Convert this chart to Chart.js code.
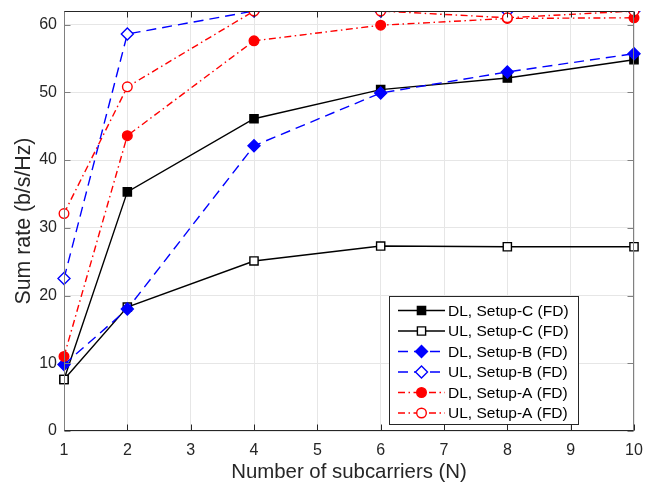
<!DOCTYPE html>
<html><head><meta charset="utf-8">
<script src="https://cdn.jsdelivr.net/npm/chart.js@4/dist/chart.umd.min.js"></script>
<style>html,body{margin:0;padding:0;background:#fff}#wrap{width:653px;height:489px}</style>
</head><body><div id="wrap"><canvas id="c" width="653" height="489"></canvas></div>
<script>
const subcarriers = [1, 2, 4, 6, 8, 10];
const dlSetupC = [7.6, 35.3, 46.1, 50.4, 52.1, 54.8];
const ulSetupC = [7.6, 18.3, 25.1, 27.3, 27.2, 27.2];
const dlSetupB = [9.8, 18.0, 42.1, 49.9, 53.0, 55.7];
const ulSetupB = [22.5, 58.6, 62, 62, 62, 62];
const dlSetupA = [11.0, 43.6, 57.6, 59.9, 60.9, 61.0];
const ulSetupA = [32.1, 50.8, 62, 62, 61.0, 62];
const seriesLabels = ['DL, Setup-C (FD)', 'UL, Setup-C (FD)', 'DL, Setup-B (FD)', 'UL, Setup-B (FD)', 'DL, Setup-A (FD)', 'UL, Setup-A (FD)'];
const xTickValues = [1, 2, 3, 4, 5, 6, 7, 8, 9, 10];
const yTickValues = [0, 10, 20, 30, 40, 50, 60];
const xTitle = 'Number of subcarriers (N)';
const yTitle = 'Sum rate (b/s/Hz)';

const FONT = "'Liberation Sans', Arial, Helvetica, sans-serif";
const seriesValues = [dlSetupC, ulSetupC, dlSetupB, ulSetupB, dlSetupA, ulSetupA];
const styles = [
  {color: '#000000', dash: [], point: 'rect', r: 5.8, filled: true},
  {color: '#000000', dash: [], point: 'rect', r: 5.8, filled: false},
  {color: '#0000ff', dash: [10, 6], point: 'rectRot', r: 6, filled: true},
  {color: '#0000ff', dash: [10, 6], point: 'rectRot', r: 6, filled: false},
  {color: '#ff0000', dash: [7, 3.5, 1.5, 3.5], point: 'circle', r: 4.8, filled: true},
  {color: '#ff0000', dash: [7, 3.5, 1.5, 3.5], point: 'circle', r: 4.8, filled: false}
];

const datasets = seriesValues.map((vals, i) => {
  const s = styles[i];
  return {
    label: seriesLabels[i],
    data: subcarriers.map((x, j) => ({x: x, y: vals[j]})),
    borderColor: s.color,
    borderWidth: 1.4,
    borderDash: s.dash,
    pointStyle: s.point,
    pointRadius: s.r,
    pointBorderWidth: 1.4,
    pointBorderColor: s.color,
    pointBackgroundColor: s.filled ? s.color : '#ffffff',
    fill: false,
    tension: 0,
    order: seriesValues.length - 1 - i,
    clip: {left: 12, right: 12, top: 0, bottom: 12}
  };
});

function drawMarker(ctx, style, x, y, r) {
  ctx.beginPath();
  if (style === 'rect') {
    const h = r * Math.SQRT1_2;
    ctx.rect(x - h, y - h, 2 * h, 2 * h);
  } else if (style === 'rectRot') {
    ctx.moveTo(x, y - r); ctx.lineTo(x + r, y); ctx.lineTo(x, y + r); ctx.lineTo(x - r, y); ctx.closePath();
  } else {
    ctx.arc(x, y, r, 0, Math.PI * 2);
  }
  ctx.fill();
  ctx.stroke();
}

const framePlugin = {
  id: 'frame',
  afterDatasetsDraw(chart) {
    const ctx = chart.ctx;
    const {left, right, top, bottom} = chart.chartArea;
    const xs = chart.scales.x, ys = chart.scales.y;
    const L = Math.round(left) + 0.5, R = Math.round(right) - 0.5, T = Math.round(top) + 0.5, B = Math.round(bottom) - 0.5;
    ctx.save();
    ctx.setLineDash([]);
    ctx.lineWidth = 1;
    ctx.strokeStyle = '#808080';
    ctx.beginPath();
    yTickValues.forEach(v => {
      const py = Math.round(ys.getPixelForValue(v)) + 0.5;
      ctx.moveTo(L, py); ctx.lineTo(L + 6, py);
      ctx.moveTo(R, py); ctx.lineTo(R - 6, py);
    });
    ctx.stroke();
    ctx.strokeStyle = '#262626';
    ctx.beginPath();
    xTickValues.forEach(v => {
      const px = Math.round(xs.getPixelForValue(v)) + 0.5;
      ctx.moveTo(px, B); ctx.lineTo(px, B - 6);
      ctx.moveTo(px, T); ctx.lineTo(px, T + 6);
    });
    ctx.stroke();
    ctx.strokeStyle = '#262626';
    ctx.beginPath();
    ctx.moveTo(L - 0.5, T); ctx.lineTo(R + 0.5, T);
    ctx.moveTo(L - 0.5, B); ctx.lineTo(R + 0.5, B);
    ctx.stroke();
    ctx.strokeStyle = '#808080';
    ctx.beginPath();
    ctx.moveTo(L, T); ctx.lineTo(L, B);
    ctx.moveTo(R, T); ctx.lineTo(R, B);
    ctx.stroke();

    const lx0 = 389.5, ly0 = 296.5, lx1 = 578.5, ly1 = 424.5;
    ctx.fillStyle = '#ffffff';
    ctx.fillRect(lx0, ly0, lx1 - lx0, ly1 - ly0);
    ctx.strokeStyle = '#262626';
    ctx.strokeRect(lx0, ly0, lx1 - lx0, ly1 - ly0);
    ctx.font = '15.5px ' + FONT;
    ctx.textBaseline = 'middle';
    ctx.textAlign = 'left';
    seriesLabels.forEach((lab, i) => {
      const s = styles[i];
      const y = 310.5 + i * 20.5;
      ctx.strokeStyle = s.color;
      ctx.lineWidth = 1.4;
      ctx.setLineDash(s.dash);
      ctx.beginPath();
      ctx.moveTo(398, y); ctx.lineTo(445, y);
      ctx.stroke();
      ctx.setLineDash([]);
      ctx.fillStyle = s.filled ? s.color : '#ffffff';
      drawMarker(ctx, s.point, 421.5, y, s.r);
      ctx.fillStyle = '#000000';
      ctx.fillText(lab, 448, y + 1);
    });
    ctx.restore();
  }
};

new Chart(document.getElementById('c'), {
  type: 'line',
  data: {datasets: datasets},
  options: {
    responsive: false,
    animation: false,
    devicePixelRatio: 1,
    layout: {padding: {left: 0, right: 19, top: 11, bottom: 0}},
    plugins: {legend: {display: false}, tooltip: {enabled: false}},
    scales: {
      x: {
        type: 'linear', min: 1, max: 10,
        afterBuildTicks: sc => { sc.ticks = xTickValues.map(v => ({value: v})); },
        afterFit: sc => { sc.height = 58; sc.paddingLeft = 0; sc.paddingRight = 0; },
        grid: {color: '#e6e6e6', lineWidth: 1, drawTicks: false},
        border: {display: false},
        ticks: {padding: 10, color: '#262626', font: {family: FONT, size: 16}, maxRotation: 0, autoSkip: false},
        title: {display: true, text: xTitle, color: '#262626', font: {family: FONT, size: 20.4}, padding: {top: 0, bottom: 4}}
      },
      y: {
        type: 'linear', min: 0, max: 62,
        afterBuildTicks: sc => { sc.ticks = yTickValues.map(v => ({value: v})); },
        afterFit: sc => { sc.width = 64; sc.paddingTop = 0; sc.paddingBottom = 0; },
        grid: {color: '#e6e6e6', lineWidth: 1, drawTicks: false},
        border: {display: false},
        ticks: {padding: 7, color: '#262626', font: {family: FONT, size: 16}, autoSkip: false},
        title: {display: true, text: yTitle, color: '#262626', font: {family: FONT, size: 21.3}, padding: {top: 11, bottom: 0}}
      }
    }
  },
  plugins: [framePlugin]
});
</script></body></html>
